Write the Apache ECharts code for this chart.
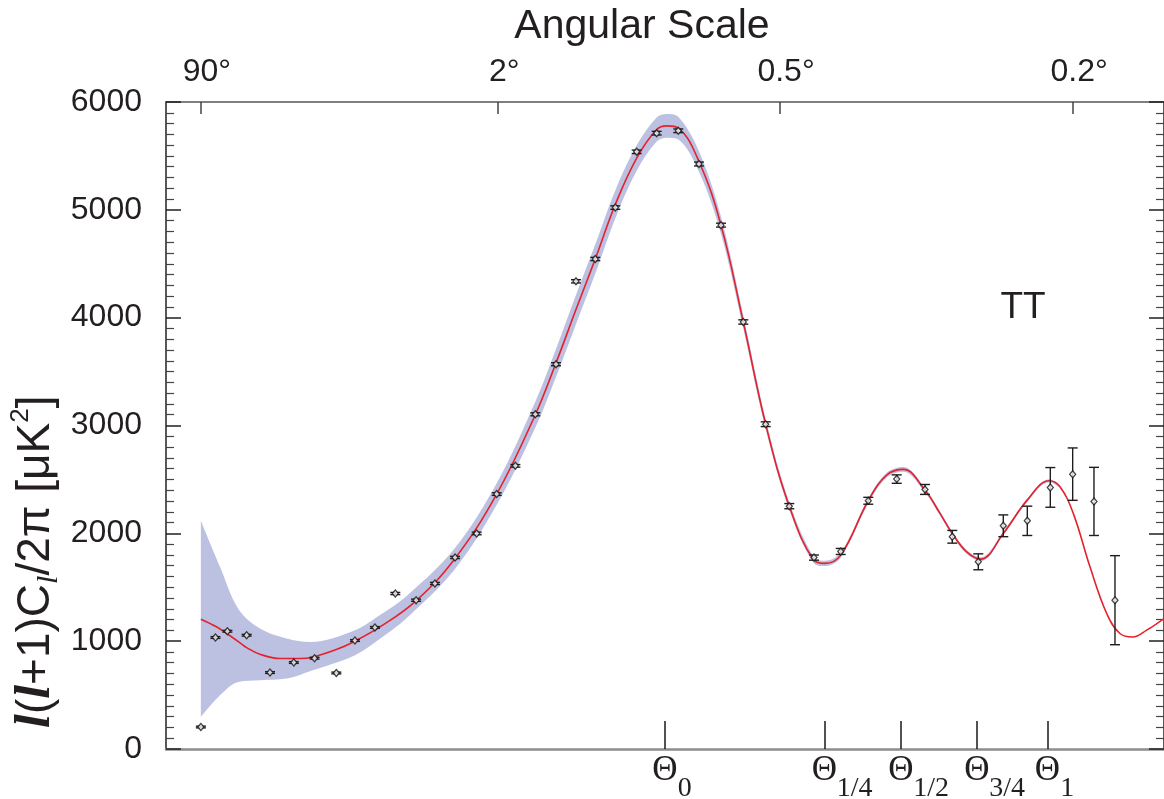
<!DOCTYPE html>
<html><head><meta charset="utf-8">
<script src="https://cdn.jsdelivr.net/npm/echarts@6/dist/echarts.min.js"></script>
<style>html,body{margin:0;padding:0;background:#fff}#c{width:1164px;height:799px}</style>
</head><body><div id="c"></div><script>
// ---- x scale: multipole l drawn on a power-law axis (u = l^0.4) ----
const P = 0.4;
const u = l => Math.pow(l, P);
const L_RANGE = [0.512, 1129.4];

// top axis (angular scale) ticks
const angleL = [2, 90, 360, 900];
const angleLabels = ['90°', '2°', '0.5°', '0.2°'];
// bottom axis (phase) ticks
const thetaL = [223.4, 423.5, 547.6, 690.2, 840.7];
const thetaSub = ['0', '1/4', '1/2', '3/4', '1'];

// y axis
const Y_MIN = 0, Y_MAX = 6000, Y_STEP = 1000;

// binned data points
const pointL = [2, 3, 4, 6, 9.1, 13.1, 17.3, 22.5, 27.6, 33.8, 40.9, 49.0, 57.1, 66.6, 77.8, 89.1, 100.5, 113.6, 128.2, 143.3, 158.9, 176.1, 195.6, 215.0, 237.2, 259.7, 285.0, 312.1, 340.8, 372.7, 407.9, 448.2, 492.2, 540.1, 590.5, 641.7, 692.9, 744.3, 795.8, 847.1, 898.8, 949.8, 1001.7];
const pointD = [204, 1034, 1092, 1055, 709, 802, 842, 705, 1006, 1127, 1442, 1380, 1535, 1776, 1999, 2364, 2626, 3104, 3568, 4337, 4544, 5021, 5538, 5711, 5733, 5425, 4858, 3960, 3012, 2252, 1775, 1832, 2302, 2503, 2407, 1968, 1736, 2070, 2116, 2426, 2549, 2296, 1380];
const pointErr = [8, 8, 8, 8, 8, 8, 8, 8, 8, 8, 10, 10, 10, 10, 12, 12, 12, 14, 14, 15, 15, 16, 16, 17, 17, 18, 18, 20, 22, 24, 24, 28, 32, 39, 46, 59, 74, 101, 136, 184, 243, 316, 413];

// best-fit model curve
const modelL = [2.0, 3.04, 3.94, 5.26, 6.01, 7.68, 10.67, 14.28, 17.03, 22.49, 27.13, 35.49, 48.95, 66.57, 89.11, 113.57, 128.18, 143.3, 158.89, 176.06, 195.61, 215.01, 225.12, 237.21, 259.73, 285.01, 312.10, 340.80, 372.70, 407.92, 424.22, 448.18, 492.18, 522.89, 551.60, 590.48, 618.31, 641.70, 669.72, 697.71, 744.27, 795.76, 844.78, 869.23, 900.2, 940.11, 980.98, 1014.3, 1046.7, 1083.2, 1129.4];
const modelD = [1204, 1136, 1071, 985, 940, 879, 839, 839, 854, 922, 993, 1132, 1374, 1767, 2364, 3100, 3580, 4075, 4545, 5050, 5480, 5745, 5779, 5758, 5448, 4858, 3960, 3011, 2252, 1750, 1721, 1798, 2302, 2540, 2593, 2400, 2185, 1999, 1828, 1761, 1999, 2308, 2487, 2432, 2185, 1689, 1257, 1071, 1039, 1102, 1210];

// cosmic-variance band (lower / upper edge)
const bandL = [2.0, 3.36, 5.08, 7.68, 11.81, 16.32, 27.62, 35.49, 45.23, 66.57, 89.11, 113.57, 128.18, 143.3, 158.89, 176.06, 195.61, 215.01, 225.12, 237.21, 259.73, 285.01, 312.10, 340.80, 372.70, 407.92, 424.22, 448.18, 492.18, 522.89, 551.60, 590.48, 618.31, 641.70, 669.72, 697.71, 744.27, 795.76, 844.78, 869.23];
const bandLow = [297, 498, 622, 638, 653, 721, 870, 1022, 1215, 1670, 2264, 2980, 3450, 3940, 4410, 4920, 5362, 5633, 5669, 5653, 5353, 4778, 3900, 2966, 2217, 1722, 1696, 1774, 2280, 2518, 2571, 2380, 2165, 1981, 1810, 1743, 1983, 2293, 2473, 2422];
const bandHigh = [2116, 1689, 1299, 1117, 1025, 993, 1102, 1242, 1420, 1864, 2464, 3220, 3710, 4210, 4680, 5180, 5598, 5857, 5889, 5863, 5543, 4938, 4020, 3056, 2287, 1778, 1746, 1822, 2324, 2562, 2615, 2420, 2205, 2017, 1846, 1779, 2015, 2323, 2501, 2442];

const SANS = "'Liberation Sans', Helvetica, Arial, sans-serif";
const SERIF = "'Liberation Serif', 'Times New Roman', serif";
const INK = '#231f20';

const nearestIdx = (arr, v) => {
  let b = 0;
  arr.forEach((a, i) => { if (Math.abs(u(a) - v) < Math.abs(u(arr[b]) - v)) b = i; });
  return b;
};

const chart = echarts.init(document.getElementById('c'), null, { renderer: 'canvas' });

// bottom label rich styles: the subscript token takes no layout width, so Θ sits centred on its tick;
// the subscript is centred on Θ's right edge, so it is led by blank space of its own width
const thetaRich = {
  t: { fontFamily: SERIF, fontSize: 35, color: INK, lineHeight: 30, verticalAlign: 'top' },
  s: { fontFamily: SERIF, fontSize: 28, color: INK, lineHeight: 50, verticalAlign: 'bottom', width: 0 }
};
const subLead = s => (s.length > 1 ? '\u2007\u2007\u2008' : '\u2007') + s;

const option = {
  animation: false,
  backgroundColor: '#fff',
  grid: { left: 166, right: 0, top: 102, bottom: 50, containLabel: false, outerBoundsMode: 'none' },
  xAxis: [
    {
      type: 'value', position: 'bottom',
      min: u(L_RANGE[0]), max: u(L_RANGE[1]),
      axisLine: { show: true, onZero: false, lineStyle: { color: '#8c8c8c', width: 2.5 } },
      axisTick: { show: true, inside: true, length: 28, customValues: thetaL.map(u), lineStyle: { color: '#1a1a1a', width: 1.5 } },
      axisLabel: {
        show: true, customValues: thetaL.map(u), margin: 4,
        showMinLabel: true, showMaxLabel: true, hideOverlap: false,
        formatter: v => '{t|Θ}{s|' + subLead(thetaSub[nearestIdx(thetaL, v)]) + '}',
        rich: thetaRich
      },
      splitLine: { show: false }
    },
    {
      type: 'value', position: 'top',
      min: u(L_RANGE[0]), max: u(L_RANGE[1]),
      axisLine: { show: true, onZero: false, lineStyle: { color: '#555', width: 1.5 } },
      axisTick: { show: true, inside: true, length: 12, customValues: angleL.map(u), lineStyle: { color: '#444', width: 1.5 } },
      axisLabel: {
        show: true, customValues: angleL.map(u), margin: 14,
        showMinLabel: true, showMaxLabel: true,
        fontFamily: SANS, fontSize: 32, color: INK, padding: [0, 0, 0, 12],
        formatter: v => angleLabels[nearestIdx(angleL, v)]
      },
      splitLine: { show: false }
    }
  ],
  yAxis: [
    {
      type: 'value', position: 'left', min: Y_MIN, max: Y_MAX, interval: Y_STEP,
      axisLine: { show: true, onZero: false, lineStyle: { color: '#222', width: 1.5 } },
      axisTick: { show: true, inside: true, length: 15, lineStyle: { color: '#222', width: 1.5 } },
      minorTick: { show: true, splitNumber: 10, length: 8, lineStyle: { color: '#444', width: 1.2 } },
      axisLabel: { fontFamily: SANS, fontSize: 32, color: INK, margin: 24, formatter: v => String(v) },
      splitLine: { show: false }, minorSplitLine: { show: false }
    },
    {
      type: 'value', position: 'right', min: Y_MIN, max: Y_MAX, interval: Y_STEP,
      axisLine: { show: true, onZero: false, lineStyle: { color: '#222', width: 1.5 } },
      axisTick: { show: true, inside: true, length: 15, lineStyle: { color: '#222', width: 1.5 } },
      minorTick: { show: true, splitNumber: 10, length: 8, lineStyle: { color: '#444', width: 1.2 } },
      axisLabel: { show: false },
      splitLine: { show: false }, minorSplitLine: { show: false }
    }
  ],
  series: [
    // band: data columns are [value, u] so the value column is the stacked one
    {
      name: 'bandBase', type: 'line', stack: 'band', smooth: 0.35, symbol: 'none', silent: true, z: 1,
      encode: { x: 1, y: 0 },
      lineStyle: { width: 0, opacity: 0 },
      data: bandL.map((l, i) => [bandLow[i], u(l)])
    },
    {
      name: 'band', type: 'line', stack: 'band', smooth: 0.35, symbol: 'none', silent: true, z: 1,
      encode: { x: 1, y: 0 },
      lineStyle: { width: 0, opacity: 0 },
      areaStyle: { color: '#bcc0e1', opacity: 1 },
      data: bandL.map((l, i) => [bandHigh[i] - bandLow[i], u(l)])
    },
    {
      name: 'model', type: 'line', smooth: 0.4, symbol: 'none', silent: true, z: 2,
      lineStyle: { color: '#e3222b', width: 1.6 },
      data: modelL.map((l, i) => [u(l), modelD[i]])
    },
    {
      name: 'errors', type: 'custom', z: 3, silent: true,
      encode: { x: 0, y: [1, 2] },
      data: pointL.map((l, i) => [u(l), pointD[i] - pointErr[i], pointD[i] + pointErr[i]]),
      renderItem: (params, api) => {
        const x = api.value(0);
        const lo = api.coord([x, api.value(1)]);
        const hi = api.coord([x, api.value(2)]);
        const hw = 5;
        const st = { stroke: '#1e1e1e', lineWidth: 1.4 };
        return {
          type: 'group', children: [
            { type: 'line', shape: { x1: lo[0], y1: lo[1], x2: hi[0], y2: hi[1] }, style: st },
            { type: 'line', shape: { x1: lo[0] - hw, y1: lo[1], x2: lo[0] + hw, y2: lo[1] }, style: st },
            { type: 'line', shape: { x1: hi[0] - hw, y1: hi[1], x2: hi[0] + hw, y2: hi[1] }, style: st }
          ]
        };
      }
    },
    {
      name: 'points', type: 'scatter', z: 4, silent: true,
      symbol: 'diamond', symbolSize: [6, 7],
      itemStyle: { color: '#ffffff', borderColor: '#111', borderWidth: 1.3 },
      data: pointL.map((l, i) => [u(l), pointD[i]])
    }
  ],
  graphic: [
    { type: 'text', x: 642, y: 27, style: { text: 'Angular Scale', font: "41px " + SANS, fill: INK, align: 'center', verticalAlign: 'middle' } },
    { type: 'text', x: 1023, y: 308, style: { text: 'TT', font: "37px " + SANS, fill: INK, align: 'center', verticalAlign: 'middle' } },
    {
      type: 'text', x: 36, y: 728, rotation: Math.PI / 2,
      style: {
        text: '{b|l}{n|(}{b|l}{n|+1)C}{sub|l}{n|/2π [μK}{sup|2}{n|]}',
        align: 'left', verticalAlign: 'middle', fill: INK,
        rich: {
          b: { fontFamily: SERIF, fontStyle: 'italic', fontWeight: 'bold', fontSize: 50, lineHeight: 56, fill: INK },
          n: { fontFamily: SANS, fontSize: 46, lineHeight: 56, fill: INK },
          sub: { fontFamily: SERIF, fontStyle: 'italic', fontSize: 30, lineHeight: 30, verticalAlign: 'bottom', fill: INK },
          sup: { fontFamily: SANS, fontSize: 26, lineHeight: 30, verticalAlign: 'top', fill: INK }
        }
      }
    }
  ]
};
chart.setOption(option);
</script></body></html>
